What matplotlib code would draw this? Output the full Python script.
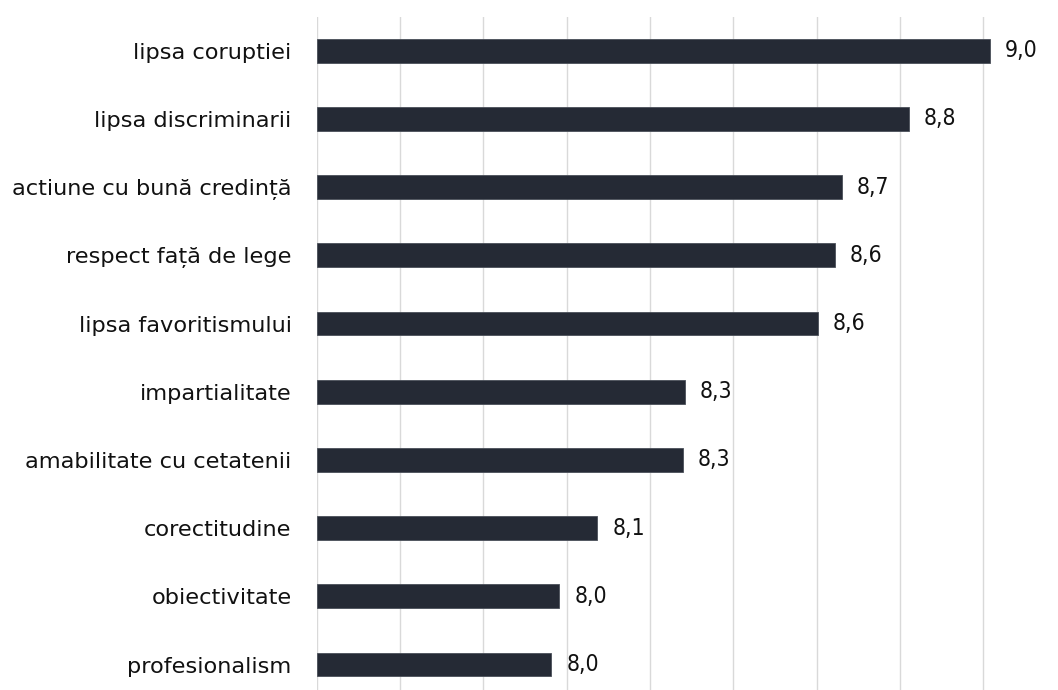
import matplotlib.pyplot as plt

# Scores per attribute, top to bottom
categories = [
    'lipsa coruptiei',
    'lipsa discriminarii',
    'actiune cu bună credință',
    'respect față de lege',
    'lipsa favoritismului',
    'impartialitate',
    'amabilitate cu cetatenii',
    'corectitudine',
    'obiectivitate',
    'profesionalism',
]
scores = [9.016, 8.821, 8.661, 8.644, 8.602, 8.284, 8.279, 8.074, 7.982, 7.963]

x_min, x_max, x_step = 7.4, 9.2, 0.2

plt.rcParams['font.family'] = ['DejaVu Sans']

fig = plt.figure(figsize=(10.58, 6.9), dpi=100)
ax = fig.add_axes([0.2993, -0.0125, 0.7089, 0.9884])

pos = list(range(len(categories)))
ax.barh(pos, [s - x_min for s in scores], left=x_min, height=0.35,
        color='#252a35', edgecolor='#4a4f59', linewidth=0.6, zorder=3)

for p, s in zip(pos, scores):
    ax.text(s + 0.036, p, f'{s:.1f}'.replace('.', ','), va='center', ha='left',
            fontsize=16.5, color='#111111', fontstretch='condensed')

ax.set_xlim(x_min, x_max)
ax.set_ylim(len(categories) - 0.5, -0.5)
ticks = [x_min + i * x_step for i in range(int(round((x_max - x_min) / x_step)) + 1)]
ax.set_xticks(ticks)
ax.set_xticklabels([])
ax.grid(axis='x', color='#d9d9d9', linewidth=1.0, zorder=0)

ax.set_yticks(pos)
ax.set_yticklabels(categories, fontsize=16.2, color='#111111')
ax.tick_params(axis='y', length=0, pad=18)
ax.tick_params(axis='x', length=0)
for side in ['top', 'right', 'bottom', 'left']:
    ax.spines[side].set_visible(False)

fig.savefig('out.png', dpi=100)
